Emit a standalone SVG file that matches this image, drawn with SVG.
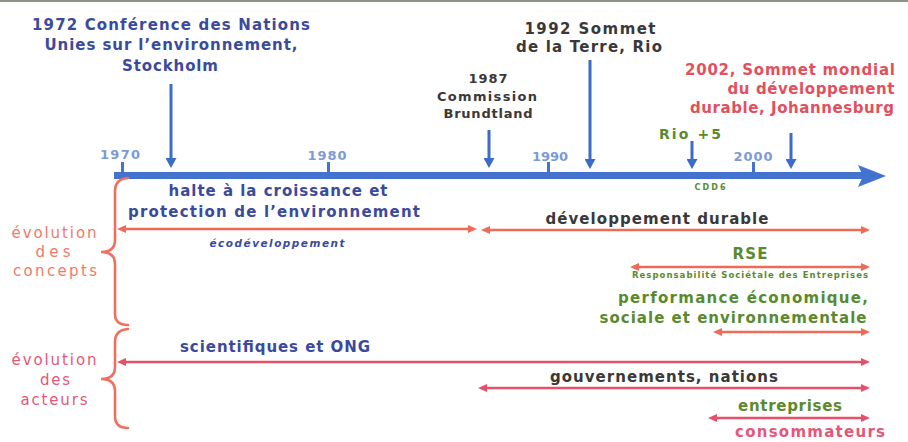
<svg xmlns="http://www.w3.org/2000/svg" width="908" height="442" viewBox="0 0 908 442">
<defs>
<style>
.t{font-family:"DejaVu Sans",Verdana,sans-serif;font-weight:bold;text-anchor:middle}
.s15{font-size:15px}
.s14{font-size:14px}
.s13{font-size:13px}
.blue{fill:#3b4a9c}
.dark{fill:#3a3838}
.red{fill:#e2505e}
.pink{fill:#e4577a}
.salmon{fill:#f07a68}
.green{fill:#5a8a2e}
.yr{fill:#7c9ad8;font-size:13px}
.ev{stroke:#3d6bc9;stroke-width:3;fill:none}
.rc{stroke:#f06a58;stroke-width:2.6;fill:none}
.ra{stroke:#e8506a;stroke-width:2.6;fill:none}
.brace{stroke:#f07060;stroke-width:2.6;fill:none;stroke-linecap:round}
</style>
<marker id="mb" markerWidth="11" markerHeight="11" refX="4" refY="5.5" orient="auto" markerUnits="userSpaceOnUse"><path d="M0,0 L10,5.5 L0,11 z" fill="#3d6bc9"/></marker>
<marker id="mc" markerWidth="10" markerHeight="8" refX="3" refY="4" orient="auto-start-reverse" markerUnits="userSpaceOnUse"><path d="M0,0 L9,4 L0,8 z" fill="#f06a58"/></marker>
<marker id="ma" markerWidth="10" markerHeight="8" refX="3" refY="4" orient="auto-start-reverse" markerUnits="userSpaceOnUse"><path d="M0,0 L9,4 L0,8 z" fill="#e8506a"/></marker>
</defs>
<rect x="0" y="0" width="908" height="2" fill="#8c9484"/>

<g id="connectors">
  <g id="axis">
    <line x1="114" y1="175.5" x2="864" y2="175.5" stroke="#4373cf" stroke-width="7"/>
    <polygon points="858,165 886,176 858,187 863,176" fill="#4373cf"/>
    <rect x="121" y="162" width="3" height="12" fill="#4373cf"/>
    <rect x="327" y="162" width="3" height="12" fill="#4373cf"/>
    <rect x="547" y="162" width="3" height="12" fill="#4373cf"/>
    <rect x="752" y="162" width="3" height="12" fill="#4373cf"/>
  </g>
  <line class="ev" x1="171" y1="84" x2="171" y2="162" marker-end="url(#mb)"/>
  <line class="ev" x1="489" y1="130" x2="489" y2="162" marker-end="url(#mb)"/>
  <line class="ev" x1="590" y1="60" x2="590" y2="163" marker-end="url(#mb)"/>
  <line class="ev" x1="692" y1="141" x2="692" y2="163" marker-end="url(#mb)"/>
  <line class="ev" x1="791" y1="133" x2="791" y2="163" marker-end="url(#mb)"/>

  <line class="rc" x1="123" y1="229" x2="471" y2="229" marker-start="url(#mc)" marker-end="url(#mc)"/>
  <line class="rc" x1="487" y1="230" x2="864" y2="230" marker-start="url(#mc)" marker-end="url(#mc)"/>
  <line class="rc" x1="636" y1="267" x2="864" y2="267" marker-start="url(#mc)" marker-end="url(#mc)"/>
  <line class="rc" x1="719" y1="332" x2="864" y2="332" marker-start="url(#mc)" marker-end="url(#mc)"/>

  <line class="ra" x1="123" y1="362" x2="864" y2="362" marker-start="url(#ma)" marker-end="url(#ma)"/>
  <line class="ra" x1="484" y1="388" x2="864" y2="388" marker-start="url(#ma)" marker-end="url(#ma)"/>
  <line class="ra" x1="714" y1="418" x2="864" y2="418" marker-start="url(#ma)" marker-end="url(#ma)"/>

  <path class="brace" d="M128,178 Q115,179 115,191 L115,240 Q115,252 101,252 Q115,252 115,264 L115,314 Q115,325 128,325"/>
  <path class="brace" d="M128,329 Q115,330 115,342 L115,367 Q115,379 101,379 Q115,379 115,391 L115,416 Q115,428 128,428"/>
</g>

<g id="years">
  <text class="t yr" x="120" y="159" textLength="40">1970</text>
  <text class="t yr" x="327" y="160" textLength="39">1980</text>
  <text class="t yr" x="550" y="161" textLength="36">1990</text>
  <text class="t yr" x="753" y="161" textLength="39">2000</text>
</g>

<g id="ev1972">
  <text class="t s15 blue" x="171" y="30" textLength="278">1972 Conférence des Nations</text>
  <text class="t s15 blue" x="171" y="50" textLength="253">Unies sur l’environnement,</text>
  <text class="t s15 blue" x="170" y="71" textLength="96">Stockholm</text>
</g>
<g id="ev1987">
  <text class="t s13 dark" x="488" y="83" textLength="39">1987</text>
  <text class="t s13 dark" x="487" y="101" textLength="100">Commission</text>
  <text class="t s13 dark" x="488" y="118" textLength="89">Brundtland</text>
</g>
<g id="ev1992">
  <text class="t s15 dark" x="590" y="34" textLength="131">1992 Sommet</text>
  <text class="t s15 dark" x="589" y="52" textLength="146">de la Terre, Rio</text>
</g>
<g id="ev2002">
  <text class="t s15 red" x="790" y="75" textLength="210">2002, Sommet mondial</text>
  <text class="t s15 red" x="811" y="94" textLength="167">du développement</text>
  <text class="t s15 red" x="792" y="113" textLength="204">durable, Johannesburg</text>
</g>
<g id="rio5">
  <text class="t s14 green" x="690" y="139" textLength="62">Rio +5</text>
</g>
<g id="cdd6">
  <text class="t green" x="710" y="190" font-size="8" textLength="31">CDD6</text>
</g>

<g id="concepts-label">
  <text class="t s15 salmon" x="54" y="238" style="font-weight:normal" textLength="85">évolution</text>
  <text class="t s15 salmon" x="53" y="257" style="font-weight:normal" textLength="35">des</text>
  <text class="t s15 salmon" x="55" y="276" style="font-weight:normal" textLength="84">concepts</text>
</g>
<g id="acteurs-label">
  <text class="t s15 pink" x="54" y="365" style="font-weight:normal" textLength="85">évolution</text>
  <text class="t s15 pink" x="55" y="385" style="font-weight:normal" textLength="30">des</text>
  <text class="t s15 pink" x="54" y="405" style="font-weight:normal" textLength="67">acteurs</text>
</g>

<g id="halte">
  <text class="t s15 blue" x="278" y="196" textLength="219">halte à la croissance et</text>
  <text class="t s15 blue" x="274" y="217" textLength="292">protection de l’environnement</text>
</g>
<g id="ecodev">
  <text class="t blue" x="277" y="247" font-size="10.5" font-style="italic" textLength="135">écodéveloppement</text>
</g>
<g id="devdurable">
  <text class="t s15 dark" x="657" y="224" textLength="223">développement durable</text>
</g>
<g id="rse">
  <text class="t s15 green" x="750" y="259" textLength="35">RSE</text>
  <text class="t green" x="750" y="278" font-size="8.5" textLength="236">Responsabilité Sociétale des Entreprises</text>
</g>
<g id="performance">
  <text class="t s15 green" x="743" y="303" textLength="250">performance économique,</text>
  <text class="t s15 green" x="733" y="323" textLength="267">sociale et environnementale</text>
</g>
<g id="scientifiques">
  <text class="t s15 blue" x="275" y="352" textLength="190">scientifiques et ONG</text>
</g>
<g id="gouvernements">
  <text class="t s15 dark" x="664" y="382" textLength="228">gouvernements, nations</text>
</g>
<g id="entreprises">
  <text class="t s15 green" x="790" y="411" textLength="104">entreprises</text>
</g>
<g id="consommateurs">
  <text class="t s15 pink" x="810" y="437" textLength="150">consommateurs</text>
</g>
</svg>
